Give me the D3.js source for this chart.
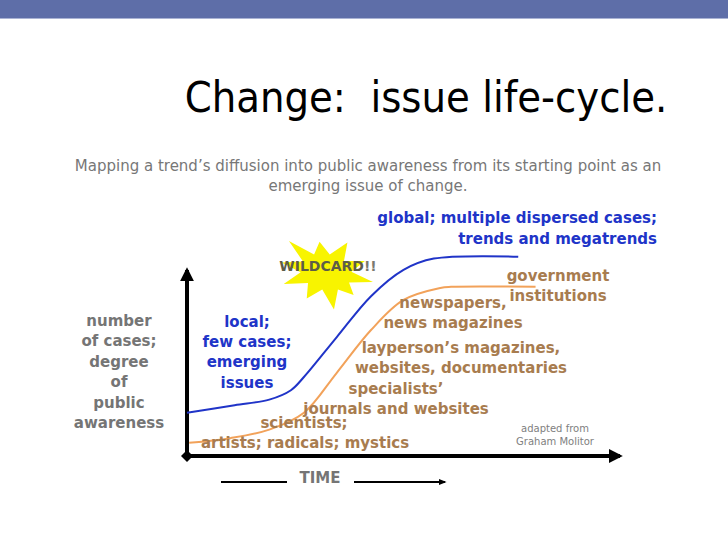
<!DOCTYPE html>
<html>
<head>
<meta charset="utf-8">
<script src="https://cdn.jsdelivr.net/npm/d3@7"></script>
<style>
  body { margin: 0; background: #fff; }
  svg { display: block; }
</style>
</head>
<body>
<div id="vis"></div>
<script>
// curve data: time (0-10) vs awareness (0-100)
const blueTime = [0, 1.1, 1.9, 2.4, 2.7, 3.45, 4.25, 5, 5.7, 7.65];
const blueLevel = [23, 27, 30, 35, 42, 63, 85, 99, 105, 106];
const orangeTime = [0.05, 1, 1.9, 2.7, 3.45, 4.25, 5, 5.85, 6.1, 8.05];
const orangeLevel = [7, 9.5, 14, 23, 44, 67, 83, 89.4, 90, 90];

const yAxisLabel = ["number", "of cases;", "degree", "of", "public", "awareness"];
const blueLow = ["local;", "few cases;", "emerging", "issues"];
const blueHigh = ["global; multiple dispersed cases;", "trends and megatrends"];

const stageLabels = [
  ["artists; radicals; mystics"],
  ["scientists;"],
  ["specialists\u2019", "journals and websites"],
  ["layperson\u2019s magazines,", "websites, documentaries"],
  ["newspapers,", "news magazines"],
  ["government", "institutions"]
];

const width = 728, height = 546;
const svg = d3.select("#vis").append("svg")
  .attr("width", width)
  .attr("height", height);

// header bar
svg.append("rect").attr("x", 0).attr("y", 0).attr("width", width).attr("height", 18).attr("fill", "#5e6ea8");
svg.append("rect").attr("x", 0).attr("y", 18).attr("width", width).attr("height", 1).attr("fill", "#aab3d4");

svg.append("text")
  .attr("x", 426).attr("y", 112)
  .attr("text-anchor", "middle")
  .style("font-family", "DejaVu Sans Condensed, DejaVu Sans")
  .style("font-size", "43px")
  .text("Change:\u00a0 issue life-cycle.");

const sub = svg.append("text")
  .attr("text-anchor", "middle")
  .style("font-family", "DejaVu Sans")
  .style("font-size", "15px")
  .attr("fill", "#777");
sub.append("tspan").attr("x", 368).attr("y", 171)
  .text("Mapping a trend\u2019s diffusion into public awareness from its starting point as an");
sub.append("tspan").attr("x", 368).attr("y", 191).text("emerging issue of change.");

const x = d3.scaleLinear().domain([0, 10]).range([187, 620]);
const y = d3.scaleLinear().domain([0, 100]).range([456, 268]);

const bold = "DejaVu Sans";
const blue = "#2034c8", brown = "#a87c4f", grey = "#757575";

// wildcard starburst
const starR = [1, 0.82, 1.05, 0.9, 1, 0.95, 1.1, 0.85, 1, 0.92];
const star = [];
starR.forEach((r, i) => {
  const a0 = i / starR.length * Math.PI * 2;
  const a1 = (i + 0.5) / starR.length * Math.PI * 2;
  star.push([Math.cos(a0) * r * 48, Math.sin(a0) * r * 35]);
  star.push([Math.cos(a1) * 26, Math.sin(a1) * 18]);
});
svg.append("path")
  .attr("transform", "translate(326,272) rotate(12)")
  .attr("d", d3.line()(star) + "Z")
  .attr("fill", "#f8f400");
const wc = svg.append("text")
  .attr("x", 328).attr("y", 271)
  .attr("text-anchor", "middle")
  .style("font-family", bold).style("font-weight", "bold").style("font-size", "14px")
  .attr("fill", "#5d5d48");
wc.append("tspan").text("WILDCARD");
wc.append("tspan").attr("fill", "#7a7a70").text("!!");

// axes
const defs = svg.append("defs");
defs.append("marker")
  .attr("id", "arrow").attr("viewBox", "0 0 10 10")
  .attr("refX", 8).attr("refY", 5)
  .attr("markerWidth", 3.5).attr("markerHeight", 3.5)
  .attr("orient", "auto")
  .append("path").attr("d", "M0,0L10,5L0,10Z").attr("fill", "#000");
defs.append("marker")
  .attr("id", "arrowSmall").attr("viewBox", "0 0 10 10")
  .attr("refX", 8).attr("refY", 5)
  .attr("markerWidth", 4).attr("markerHeight", 4)
  .attr("orient", "auto")
  .append("path").attr("d", "M0,1L10,5L0,9Z").attr("fill", "#000");

svg.append("line")
  .attr("x1", x(0)).attr("y1", y(0)).attr("x2", x(0)).attr("y2", y(100) + 2)
  .attr("stroke", "#000").attr("stroke-width", 4).attr("marker-end", "url(#arrow)");
svg.append("line")
  .attr("x1", x(0)).attr("y1", y(0)).attr("x2", x(10)).attr("y2", y(0))
  .attr("stroke", "#000").attr("stroke-width", 4).attr("marker-end", "url(#arrow)");
svg.append("path")
  .attr("d", `M${x(0) - 6},${y(0)}L${x(0)},${y(0) - 6}L${x(0) + 6},${y(0)}L${x(0)},${y(0) + 6}Z`)
  .attr("fill", "#000");

// curves
const line = d3.line().x(d => x(d[0])).y(d => y(d[1])).curve(d3.curveCatmullRom.alpha(0.5));
svg.append("path")
  .attr("d", line(d3.zip(orangeTime, orangeLevel)))
  .attr("fill", "none").attr("stroke", "#f2a25a").attr("stroke-width", 2);
svg.append("path")
  .attr("d", line(d3.zip(blueTime, blueLevel)))
  .attr("fill", "none").attr("stroke", blue).attr("stroke-width", 2);

function block(lines, px, py, anchor, color, size, lh) {
  const t = svg.append("text")
    .attr("text-anchor", anchor)
    .style("font-family", bold).style("font-weight", "bold").style("font-size", size + "px")
    .attr("fill", color);
  lines.forEach((s, i) => t.append("tspan").attr("x", px).attr("y", py + i * lh).text(s));
  return t;
}

block(yAxisLabel, 119, 326, "middle", grey, 15, 20.4);
block(blueLow, 247, 327, "middle", blue, 15, 20.2);
block(blueHigh, 657, 223, "end", blue, 15, 20.5);

// label placement: [center x, first baseline]
const stagePos = [[305, 448], [304, 428], [396, 394], [461, 353], [453, 308], [558, 281]];
stageLabels.forEach((lines, i) => {
  block(lines, stagePos[i][0], stagePos[i][1], "middle", brown, 15, 20);
});

block(["adapted from", "Graham Molitor"], 555, 432, "middle", "#808080", 10, 13)
  .style("font-weight", "normal");

// TIME label
svg.append("text")
  .attr("x", 320).attr("y", 483)
  .attr("text-anchor", "middle")
  .style("font-family", bold).style("font-weight", "bold").style("font-size", "15px")
  .attr("fill", grey).text("TIME");
svg.append("line").attr("x1", 221).attr("y1", 482).attr("x2", 287).attr("y2", 482)
  .attr("stroke", "#000").attr("stroke-width", 2);
svg.append("line").attr("x1", 354).attr("y1", 482).attr("x2", 445).attr("y2", 482)
  .attr("stroke", "#000").attr("stroke-width", 2).attr("marker-end", "url(#arrowSmall)");
</script>
</body>
</html>
